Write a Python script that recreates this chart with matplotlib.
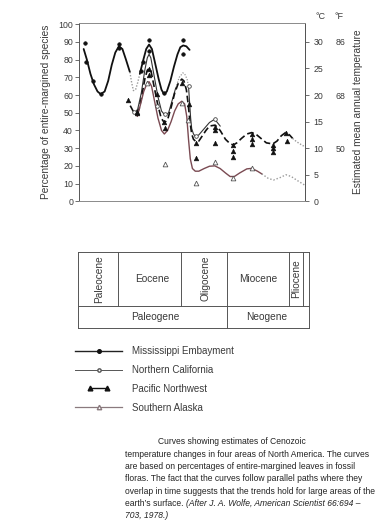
import matplotlib
matplotlib.use('Agg')
import matplotlib.pyplot as plt
from matplotlib.lines import Line2D
from matplotlib.legend_handler import HandlerLine2D

plt.rcParams['font.family'] = ['Liberation Sans', 'DejaVu Sans']

# ---------------- data (x = age in Ma, y = % entire-margined species) -------------
# Mississippi Embayment
ms_ma_1 = [63.4, 62.5, 61.5, 60.5, 59.5, 58.6, 57.5, 56.5, 55.5, 54.5, 53.5, 52.5, 51.5, 50.4]
ms_val_1 = [86, 80, 72, 66, 62, 60.5, 62, 68, 77, 84, 87.5, 86, 80, 73]
ms_ma_dot = [50.4, 49.9, 49.4, 48.8, 48.2, 47.6]
ms_val_dot = [73, 67, 62.5, 63, 67, 72]
ms_ma_2 = [47.6, 46.6, 45.8, 45.0, 44.2, 43.3, 42.3, 41.5, 40.8, 40.0, 39.0, 38.0, 37.0, 36.2, 35.4, 34.5, 33.6]
ms_val_2 = [72, 80, 86, 88.5, 86, 78, 69, 63, 60.5, 62, 68, 76, 83, 87, 88, 87.5, 85.5]
ms_pts_ma = [63.0, 62.8, 60.8, 58.6, 53.5, 53.5, 47.3, 46.8, 45.0, 45.0, 40.8, 35.4, 35.4]
ms_pts_val = [89.6, 78.7, 68.2, 60.5, 88.7, 86.8, 73.8, 78.7, 91.0, 85.0, 61.0, 91.1, 83.2]

# Northern California
nc_ma_1 = [49.0, 48.2, 47.2, 46.2, 45.5, 45.0, 44.5, 43.5, 42.5, 41.5, 40.5, 39.5, 38.5, 37.5]
nc_val_1 = [50, 52, 61, 74, 81, 83, 81, 70, 59, 51, 48.5, 50, 57, 64]
nc_ma_dot = [37.5, 36.5, 35.5, 35.0, 34.3, 33.9]
nc_val_dot = [64, 70, 72.5, 72, 69, 65]
nc_ma_2 = [33.9, 33.6, 33.3, 33.0, 32.5, 31.9, 31.0, 29.5, 28.0, 26.8, 26.0, 25.0]
nc_val_2 = [65, 56, 47, 41, 38, 36.5, 37.5, 41, 44.5, 46, 45, 42.5]
nc_pts_ma = [49.3, 42.9, 40.5, 33.8, 31.9, 26.4]
nc_pts_val = [50.3, 53.9, 49.2, 65.2, 37.0, 46.3]

# Pacific Northwest
pn_ma = [50.3, 49.5, 48.6, 47.8, 47.0, 46.2, 45.5, 45.0, 44.4, 43.6, 42.6, 41.6, 40.7, 39.8,
         38.8, 37.8, 36.8, 35.8, 35.2, 34.5, 34.0, 33.5, 33.0, 32.5, 31.8, 31.0, 30.0, 29.0,
         28.0, 26.4, 25.0, 23.5, 22.2, 21.3, 20.3, 19.0, 17.5, 16.1, 15.0, 13.5, 12.0, 10.2,
         9.0, 7.8, 6.6, 5.5, 4.6]
pn_val = [54, 51, 49.7, 52, 60, 69, 74, 75, 73, 65, 55, 47, 44.4, 46,
          53, 61, 66.5, 69, 68, 63, 55, 45, 38, 35, 33.7, 34, 37, 40,
          42.5, 43, 40, 35, 32.5, 31.8, 33, 35.5, 38, 38.8, 38, 35.5, 33, 32.4,
          34, 37, 38.8, 37.5, 35.5]
pn_ma_dot = [4.6, 3.6, 2.6, 1.8, 1.1]
pn_val_dot = [35.5, 33.8, 32.5, 31.5, 31.0]
pn_pts_ma = [50.8, 48.5, 48.3, 45.0, 45.0, 42.9, 40.7, 40.5, 35.6, 33.8, 31.9, 31.9,
             26.4, 26.4, 26.4, 21.3, 21.3, 21.3, 16.1, 16.1, 16.1, 10.2, 10.2, 10.2, 6.5, 6.3]
pn_pts_val = [57.3, 50.7, 49.7, 74.8, 71.4, 60.5, 45.0, 41.2, 67.0, 55.0, 33.1, 24.7,
              42.2, 40.5, 33.1, 31.8, 28.4, 25.2, 37.9, 35.0, 32.4, 31.8, 29.9, 28.1, 38.4, 34.1]

# Southern Alaska
sa_ma = [48.3, 47.5, 46.5, 45.5, 45.0, 44.3, 43.5, 42.5, 41.5, 40.7, 39.8, 38.8, 37.8,
         36.8, 35.8, 35.0, 34.4, 33.9, 33.4, 32.8, 32.0, 31.0, 29.5, 28.0, 26.5, 25.0,
         23.5, 22.2, 21.0, 19.5, 17.5, 16.1, 14.5, 13.3]
sa_val = [48, 54, 62, 67, 67.5, 65, 57, 47, 40, 38, 40, 45, 51,
          55, 56.5, 55, 48, 35, 24, 18.5, 17, 17, 18.5, 19.8, 20, 18.5,
          16, 14, 14, 16, 18.3, 18.6, 17, 15.5]
sa_ma_dot = [13.3, 11.5, 10.0, 8.0, 6.5, 5.0, 3.5, 1.1]
sa_val_dot = [15.5, 13, 12, 13.5, 15, 14, 12, 9]
sa_pts_ma = [45.5, 40.5, 35.6, 34.1, 31.9, 26.4, 21.3, 16.1]
sa_pts_val = [66.7, 21.1, 55.7, 46.0, 10.5, 22.0, 13.0, 18.6]

# axis ticks
pct_ticks = list(range(0, 101, 10))
c_ticks = [0, 5, 10, 15, 20, 25, 30]
f_ticks_c = [10, 20, 30]
f_labels = ['50', '68', '86']

# geological time scale (Ma)
epoch_names = ['Paleocene', 'Eocene', 'Oligocene', 'Miocene', 'Pliocene']
epoch_bounds = [65.0, 53.8, 36.1, 23.0, 5.6, 1.8]
epoch_label_x = [59.0, 44.0, 29.0, 14.4, 3.5]
epoch_rot = [90, 0, 90, 0, 90]
period_names = ['Paleogene', 'Neogene']
period_bounds = [65.0, 23.0, 0.0]
period_label_x = [43.3, 11.9]

legend_labels = ['Mississippi Embayment', 'Northern California',
                 'Pacific Northwest', 'Southern Alaska']

caption_lines = [
    'Curves showing estimates of Cenozoic',
    'temperature changes in four areas of North America. The curves',
    'are based on percentages of entire-margined leaves in fossil',
    'floras. The fact that the curves follow parallel paths where they',
    'overlap in time suggests that the trends hold for large areas of the',
]
caption_last_plain = "earth\u2019s surface. "
caption_last_italic = '(After J. A. Wolfe, American Scientist 66:694 \u2013'
caption_final_italic = '703, 1978.)'

# ---------------- figure ----------------
W, H = 380, 524
fig = plt.figure(figsize=(W / 100, H / 100), dpi=100)
fig.patch.set_facecolor('white')

TXT = '#3a3a3a'
AX_C = '#555555'
SA_C = '#7a4a52'
DOT_C = '#9a9a9a'

ax = fig.add_axes([79.3 / W, (H - 201.3) / H, 226.0 / W, 178.0 / H])
ax.set_xlim(64.63, 1.04)
ax.set_ylim(0, 100.5)
for s in ax.spines.values():
    s.set_color(AX_C)
    s.set_linewidth(0.7)
ax.spines['top'].set_color('#8a8a8a')
ax.spines['bottom'].set_color('#8a8a8a')
ax.set_xticks([])
ax.set_yticks(pct_ticks)
ax.tick_params(axis='y', direction='out', length=3, width=0.6, color=AX_C,
               labelsize=6.3, labelcolor=TXT, pad=1.5)
ax.set_ylabel('Percentage of entire-margined species', fontsize=7.3, color=TXT)
ax.yaxis.set_label_coords(-0.125, 0.5)

# curves
ax.plot(ms_ma_1, ms_val_1, color='#111111', lw=1.3, solid_capstyle='round')
ax.plot(ms_ma_dot, ms_val_dot, color=DOT_C, lw=1.0, ls=(0, (1, 1.2)))
ax.plot(ms_ma_2, ms_val_2, color='#111111', lw=1.3, solid_capstyle='round')

ax.plot(nc_ma_1, nc_val_1, color='#333333', lw=0.8)
ax.plot(nc_ma_dot, nc_val_dot, color=DOT_C, lw=0.9, ls=(0, (1, 1.2)))
ax.plot(nc_ma_2, nc_val_2, color='#333333', lw=0.8)

ax.plot(pn_ma, pn_val, color='#111111', lw=1.2, ls=(0, (4, 2)))
ax.plot(pn_ma_dot, pn_val_dot, color=DOT_C, lw=1.0, ls=(0, (1, 1.2)))

ax.plot(sa_ma, sa_val, color=SA_C, lw=1.0)
ax.plot(sa_ma_dot, sa_val_dot, color=DOT_C, lw=1.0, ls=(0, (1, 1.4)))

# points
ax.plot(ms_pts_ma, ms_pts_val, ls='none', marker='o', ms=2.6, mfc='#111111', mec='#111111', mew=0.4)
ax.plot(nc_pts_ma, nc_pts_val, ls='none', marker='o', ms=2.6, mfc='white', mec='#444444', mew=0.6)
ax.plot(pn_pts_ma, pn_pts_val, ls='none', marker='^', ms=3.4, mfc='#111111', mec='#111111', mew=0.4)
ax.plot(sa_pts_ma, sa_pts_val, ls='none', marker='^', ms=3.4, mfc='white', mec='#555555', mew=0.6)

# right axes: degrees C and F
secC = ax.secondary_yaxis('right', functions=(lambda v: v / 3.0, lambda c: c * 3.0))
secC.set_yticks(c_ticks)
secC.tick_params(direction='out', length=3, width=0.6, color=AX_C,
                 labelsize=6.3, labelcolor=TXT, pad=3)
secC.spines['right'].set_color(AX_C)
secC.spines['right'].set_linewidth(0.7)

secF = ax.secondary_yaxis('right', functions=(lambda v: v / 3.0, lambda c: c * 3.0))
secF.set_yticks(f_ticks_c, labels=f_labels)
secF.tick_params(length=0, labelsize=6.3, labelcolor=TXT, pad=22)
secF.spines['right'].set_visible(False)

fig.text(358.0 / W, 1 - 112.0 / H, 'Estimated mean annual temperature', rotation=90,
         ha='center', va='center', fontsize=7.3, color=TXT)

ax.text(1.066, 1.041, '\u00b0C', transform=ax.transAxes, ha='center', va='center',
        fontsize=6.5, color=TXT)
ax.text(1.149, 1.041, '\u00b0F', transform=ax.transAxes, ha='center', va='center',
        fontsize=6.5, color=TXT)

# ---------------- geological time scale ----------------
tax = fig.add_axes([78.0 / W, (H - 328.3) / H, 231.0 / W, 76.6 / H])
tax.set_xlim(65, 0)
tax.set_ylim(0, 1)
tax.axis('off')
row = 0.295
LC = '#555555'
tax.plot([65, 0], [1, 1], color=LC, lw=0.7, clip_on=False)
tax.plot([65, 0], [row, row], color=LC, lw=0.7, clip_on=False)
tax.plot([65, 0], [0, 0], color=LC, lw=0.7, clip_on=False)
tax.plot([65, 65], [0, 1], color=LC, lw=0.7, clip_on=False)
tax.plot([0, 0], [0, 1], color=LC, lw=0.7, clip_on=False)
for b in epoch_bounds[1:]:
    tax.plot([b, b], [row, 1], color=LC, lw=0.7, clip_on=False)
tax.plot([period_bounds[1]] * 2, [0, row], color=LC, lw=0.7, clip_on=False)
for name, x, r in zip(epoch_names, epoch_label_x, epoch_rot):
    tax.text(x, (1 + row) / 2, name, rotation=r, ha='center', va='center',
             fontsize=7.3, color=TXT)
for name, x in zip(period_names, period_label_x):
    tax.text(x, row / 2, name, ha='center', va='center', fontsize=7.3, color=TXT)

# ---------------- legend ----------------
handles = [
    Line2D([], [], color='#222222', lw=1.0, marker='o', ms=2.6, mfc='#111111', mec='#111111'),
    Line2D([], [], color='#555555', lw=0.7, marker='o', ms=2.4, mfc='white', mec='#555555'),
    Line2D([], [], color='#111111', lw=1.0, marker='^', ms=3.4, mfc='#111111', mec='#111111'),
    Line2D([], [], color='#8a7a7e', lw=0.9, marker='^', ms=3.2, mfc='white', mec='#8a7a7e'),
]
leg = fig.legend(handles, legend_labels, loc='upper left',
                 bbox_to_anchor=(68.0 / W, 1 - 339.5 / H), frameon=False,
                 fontsize=7.0, handlelength=4.9, handletextpad=1.0,
                 labelspacing=0.9, borderpad=0.2,
                 handler_map={handles[0]: HandlerLine2D(numpoints=1),
                              handles[1]: HandlerLine2D(numpoints=1),
                              handles[2]: HandlerLine2D(numpoints=2, marker_pad=1.55),
                              handles[3]: HandlerLine2D(numpoints=1)})
for t in leg.get_texts():
    t.set_color(TXT)

# ---------------- caption ----------------
cap_fs = 6.15
CAP_C = '#222222'
y0 = 444.5      # baseline of first line (px from top)
dy = 12.3
fig.text(158.0 / W, 1 - y0 / H, caption_lines[0], fontsize=cap_fs, color=CAP_C,
         ha='left', va='baseline')
for i, line in enumerate(caption_lines[1:], start=1):
    fig.text(125.0 / W, 1 - (y0 + i * dy) / H, line, fontsize=cap_fs, color=CAP_C,
             ha='left', va='baseline')
ylast = y0 + 5 * dy
t1 = fig.text(125.0 / W, 1 - ylast / H, caption_last_plain, fontsize=cap_fs,
              color=CAP_C, ha='left', va='baseline')
fig.text(0, 0, '')
tax.annotate(caption_last_italic, xy=(1, 0), xycoords=t1, xytext=(0, 0),
             textcoords='offset points', ha='left', va='bottom',
             fontsize=cap_fs, style='italic', color=CAP_C,
             annotation_clip=False)
fig.text(125.0 / W, 1 - (ylast + dy) / H, caption_final_italic, fontsize=cap_fs,
         color=CAP_C, ha='left', va='baseline', style='italic')

fig.savefig('out.png', dpi=100, facecolor='white')
